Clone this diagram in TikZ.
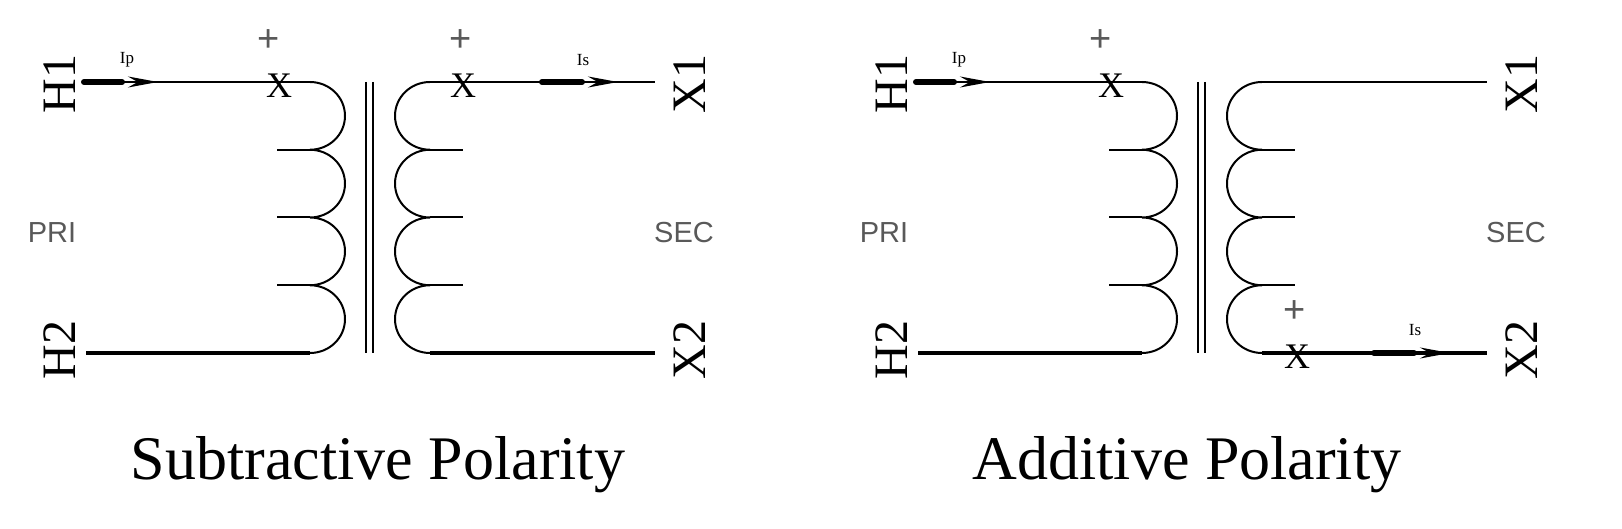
\documentclass[tikz,border=0pt]{standalone}
\usepackage{fontspec}
\setmainfont{Liberation Serif}
\setsansfont{Liberation Sans}
\usetikzlibrary{arrows.meta}
\definecolor{lab}{gray}{0.35}
\tikzset{
 wire/.style={line width=2pt},
 lead/.style={line width=3.2pt},
 cur/.style={line width=6pt,line cap=round},
 curtip/.style={line width=2pt,-{Stealth[length=30pt,width=11pt]}},
 term/.style={font=\fontsize{48}{48}\selectfont,rotate=90,inner sep=0},
 side/.style={font=\sffamily\fontsize{29}{29}\selectfont,text=lab,inner sep=0},
 plus/.style={font=\sffamily\fontsize{38}{38}\selectfont,text=lab,inner sep=0},
 xmark/.style={font=\fontsize{36}{36}\selectfont,inner sep=0},
 small/.style={font=\fontsize{17}{17}\selectfont,inner sep=0},
 title/.style={font=\fontsize{62}{62}\selectfont,inner sep=0},
}
\begin{document}
\begin{tikzpicture}[x=1pt,y=-1pt]
\useasboundingbox (0,0) rectangle (1622,529);
\foreach \o/\p in {0/L,832/R}{
 \begin{scope}[xshift=\o pt]
  \coordinate (\p h1) at (84,82);
  \coordinate (\p h2) at (86,353);
  \coordinate (\p pt) at (310,82);
  \coordinate (\p pb) at (310,353);
  \coordinate (\p st) at (430,82);
  \coordinate (\p sb) at (430,353);
  \coordinate (\p x1) at (655,82);
  \coordinate (\p x2) at (655,353);
  \node[term] (\p H1) at (60,84) {H1};
  \node[term] (\p H2) at (60,350) {H2};
  \node[term] (\p X1) at (690,84) {X1};
  \node[term] (\p X2) at (690,350) {X2};
  \node[side] (\p PRI) at (52,233) {PRI};
  \node[side] (\p SEC) at (684,233) {SEC};
  \node[plus] (\p plus1) at (269,41) {+};
  \node[xmark] (\p xa) at (279,86) {X};
  \node[small] (\p Ip) at (127,60) {Ip};
  \draw[wire] (\p pt) arc[start angle=270,end angle=450,x radius=35,y radius=33.875]
   arc[start angle=270,end angle=450,x radius=35,y radius=33.875]
   arc[start angle=270,end angle=450,x radius=35,y radius=33.875]
   arc[start angle=270,end angle=450,x radius=35,y radius=33.875];
  \foreach \k in {1,2,3} \draw[wire] (277,82+67.75*\k) -- (310,82+67.75*\k);
  \draw[wire] (366,82) -- (366,353) (373,82) -- (373,353);
  \draw[wire] (\p st) arc[start angle=270,end angle=90,x radius=35,y radius=33.875]
   arc[start angle=270,end angle=90,x radius=35,y radius=33.875]
   arc[start angle=270,end angle=90,x radius=35,y radius=33.875]
   arc[start angle=270,end angle=90,x radius=35,y radius=33.875];
  \foreach \k in {1,2,3} \draw[wire] (430,82+67.75*\k) -- (463,82+67.75*\k);
  \draw[wire] (\p h1) -- (\p pt);
  \draw[cur] (\p h1) -- (122,82);
  \draw[curtip] (115,82) -- (158,82);
  \draw[lead] (\p h2) -- (\p pb);
  \draw[wire] (\p st) -- (\p x1);
  \draw[lead] (\p sb) -- (\p x2);
 \end{scope}
}
\node[plus] (Lplus2) at (461,41) {+};
\node[xmark] (Lxb) at (463,86) {X};
\node[small] (LIs) at (583,60) {Is};
\coordinate (Lia) at (542,82);
\coordinate (Lib) at (582,82);
\draw[cur] (Lia) -- (Lib);
\draw[curtip] (575,82) -- (618,82);
\node[plus] (Rplus2) at (1295,312) {+};
\node[xmark] (Rxb) at (1297,357) {X};
\node[small] (RIs) at (1415,330) {Is};
\coordinate (Ria) at (1374,353);
\coordinate (Rib) at (1414,353);
\draw[cur] (Ria) -- (Rib);
\draw[curtip] (1407,353) -- (1450,353);
\node[title] (T1) at (378,465) {Subtractive Polarity};
\node[title] (T2) at (1187,465) {Additive Polarity};
\end{tikzpicture}
\end{document}
